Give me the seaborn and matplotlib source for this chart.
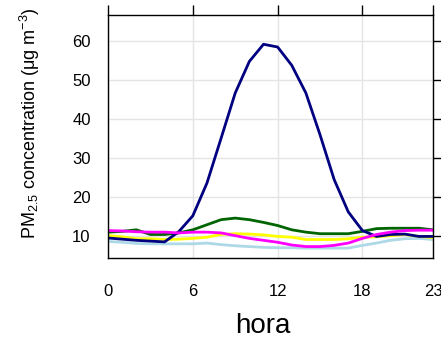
import matplotlib
matplotlib.use("Agg")
import matplotlib.pyplot as plt
import seaborn as sns
import pandas as pd

# horas del dia
horas = list(range(24))

# series (PM2.5, ug/m3)
azul = [9.4, 9.1, 8.8, 8.6, 8.4, 11.0, 15.1, 23.5, 35.0, 46.6, 54.7, 59.1,
        58.4, 53.7, 46.6, 35.9, 24.4, 16.1, 11.3, 9.8, 10.3, 10.4, 9.8, 9.8]
verde = [10.9, 11.1, 11.5, 10.3, 10.3, 10.7, 11.5, 12.8, 14.1, 14.5, 14.1, 13.4,
         12.6, 11.5, 10.9, 10.5, 10.5, 10.5, 11.1, 11.8, 11.9, 11.9, 11.9, 11.5]
amarillo = [10.0, 9.7, 9.2, 9.2, 9.0, 9.1, 9.3, 9.6, 10.3, 10.5, 10.4, 10.2,
            9.8, 9.6, 9.0, 9.0, 9.0, 9.2, 9.6, 9.7, 10.0, 10.3, 9.8, 9.5]
magenta = [11.3, 11.2, 11.0, 10.9, 10.9, 10.7, 10.9, 10.9, 10.7, 10.0, 9.3, 8.8,
           8.3, 7.6, 7.2, 7.2, 7.5, 8.1, 9.3, 10.3, 10.9, 11.3, 11.4, 11.4]
celeste = [8.5, 8.3, 8.0, 7.9, 7.9, 7.9, 7.9, 8.1, 7.7, 7.4, 7.2, 7.0,
           6.9, 6.9, 6.8, 6.8, 6.8, 6.8, 7.5, 8.1, 8.8, 9.2, 9.3, 9.0]

series = ["celeste", "amarillo", "verde", "azul", "magenta"]
valores = [celeste, amarillo, verde, azul, magenta]
colores = ["lightblue", "yellow", "darkgreen", "navy", "magenta"]

df = pd.DataFrame({
    "hora": horas * len(series),
    "pm": sum(valores, []),
    "serie": [s for s in series for _ in horas],
})

sns.set_style("white")
plt.rcParams["font.family"] = ["Liberation Sans", "DejaVu Sans"]
plt.rcParams["mathtext.fontset"] = "custom"
plt.rcParams["mathtext.rm"] = "Liberation Sans"
plt.rcParams["mathtext.it"] = "Liberation Sans:italic"
for k in ["text.color", "axes.labelcolor", "xtick.color", "ytick.color"]:
    plt.rcParams[k] = "black"

fig = plt.figure(figsize=(4.41, 3.42), dpi=100)
ax = fig.add_axes([0.245, 0.246, 0.737, 0.71])

sns.lineplot(data=df, x="hora", y="pm", hue="serie", hue_order=series,
             palette=dict(zip(series, colores)), linewidth=2.0,
             legend=False, ax=ax)

ax.set_xlim(0, 23)
ax.set_ylim(4.3, 66.6)
ax.set_xticks([0, 6, 12, 18, 23])
ax.set_yticks([10, 20, 30, 40, 50, 60])
ax.grid(True, color="#e4e4e4", linewidth=1.0)
ax.set_axisbelow(True)

for s in ax.spines.values():
    s.set_color("black")
    s.set_linewidth(1.0)

ax.tick_params(direction="out", length=7.5, width=1.0, color="black",
               top=True, right=True, labelsize=12, pad=5)
ax.tick_params(axis="x", pad=11)

ax.set_xlabel("hora", fontsize=20, va="center")
ax.xaxis.set_label_coords(0.477, -0.28)
ax.set_ylabel(r"PM$_{2.5}$ concentration (μg m$^{-3}$)", fontsize=13, va="center")
ax.yaxis.set_label_coords(-0.24, 0.556)

plt.savefig("out.png", dpi=100)
plt.close()
